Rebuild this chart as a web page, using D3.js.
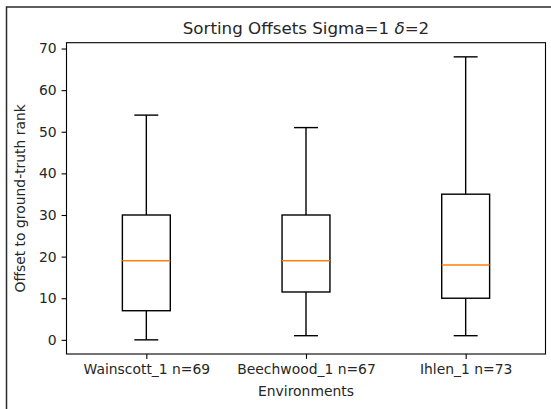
<!DOCTYPE html>
<html>
<head>
<meta charset="utf-8">
<script src="https://cdn.jsdelivr.net/npm/d3@7"></script>
<style>
  body { margin: 0; background: #fff; }
  text { font-family: "DejaVu Sans", sans-serif; fill: #262626; }
</style>
</head>
<body>
<div class="chart_box"></div>
<script>
// Box summaries
var environments = ["Wainscott_1 n=69", "Beechwood_1 n=67", "Ihlen_1 n=73"];
var whiskerLow = [0, 1, 1];
var quartile1 = [7, 11.5, 10];
var medians = [19, 19, 18];
var quartile3 = [30, 30, 35];
var whiskerHigh = [54, 51, 68];
var yTicks = [0, 10, 20, 30, 40, 50, 60, 70];

var svgWidth = 551;
var svgHeight = 409;
var margin = { top: 42.7, right: 5.5, bottom: 55, left: 66.5 };
var width = svgWidth - margin.left - margin.right;
var height = svgHeight - margin.top - margin.bottom;

var svg = d3
    .select(".chart_box")
    .append("svg")
    .attr("width", svgWidth)
    .attr("height", svgHeight);

// frame of the notebook cell around the figure
svg.append("path")
    .attr("d", "M6.5," + svgHeight + "V7H" + svgWidth)
    .attr("fill", "none")
    .attr("stroke", "#2a2a2a")
    .attr("stroke-width", 1.5);

var chart = svg.append("g")
    .attr("transform", "translate(" + margin.left + "," + margin.top + ")");

// matplotlib-style positions 1..3 with 0.5 padding
var xScale = d3.scaleLinear().domain([0.5, 3.5]).range([0, width]);
var yScale = d3.scaleLinear().domain([-3.4, 71.4]).range([height, 0]);

var data = environments.map(function (name, i) {
    return {
        name: name,
        pos: i + 1,
        lo: whiskerLow[i],
        q1: quartile1[i],
        med: medians[i],
        q3: quartile3[i],
        hi: whiskerHigh[i]
    };
});

var boxHalf = 0.15;
var capHalf = 0.075;

var boxes = chart.selectAll(".box")
    .data(data)
    .enter()
    .append("g")
    .attr("class", "box");

// whiskers
boxes.append("line")
    .attr("x1", function (d) { return xScale(d.pos); })
    .attr("x2", function (d) { return xScale(d.pos); })
    .attr("y1", function (d) { return yScale(d.lo); })
    .attr("y2", function (d) { return yScale(d.q1); })
    .attr("stroke", "#000").attr("stroke-width", 1.4);

boxes.append("line")
    .attr("x1", function (d) { return xScale(d.pos); })
    .attr("x2", function (d) { return xScale(d.pos); })
    .attr("y1", function (d) { return yScale(d.q3); })
    .attr("y2", function (d) { return yScale(d.hi); })
    .attr("stroke", "#000").attr("stroke-width", 1.4);

// caps
["lo", "hi"].forEach(function (key) {
    boxes.append("line")
        .attr("x1", function (d) { return xScale(d.pos - capHalf); })
        .attr("x2", function (d) { return xScale(d.pos + capHalf); })
        .attr("y1", function (d) { return yScale(d[key]); })
        .attr("y2", function (d) { return yScale(d[key]); })
        .attr("stroke", "#000").attr("stroke-width", 1.4);
});

// the box itself
boxes.append("rect")
    .attr("x", function (d) { return xScale(d.pos - boxHalf); })
    .attr("width", function (d) { return xScale(d.pos + boxHalf) - xScale(d.pos - boxHalf); })
    .attr("y", function (d) { return yScale(d.q3); })
    .attr("height", function (d) { return yScale(d.q1) - yScale(d.q3); })
    .attr("fill", "none")
    .attr("stroke", "#000").attr("stroke-width", 1.4);

// median
boxes.append("line")
    .attr("x1", function (d) { return xScale(d.pos - boxHalf); })
    .attr("x2", function (d) { return xScale(d.pos + boxHalf); })
    .attr("y1", function (d) { return yScale(d.med); })
    .attr("y2", function (d) { return yScale(d.med); })
    .attr("stroke", "#ff7f0e").attr("stroke-width", 1.4);

// axes
var bottomAxis = d3.axisBottom(xScale)
    .tickValues([1, 2, 3])
    .tickFormat(function (d) { return environments[d - 1]; })
    .tickSizeInner(4.9).tickSizeOuter(0).tickPadding(4.9);
var leftAxis = d3.axisLeft(yScale)
    .tickValues(yTicks)
    .tickSizeInner(4.9).tickSizeOuter(0).tickPadding(4.9);

chart.append("g")
    .attr("class", "x-axis")
    .attr("transform", "translate(0," + height + ")")
    .call(bottomAxis);

chart.append("g")
    .attr("class", "y-axis")
    .call(leftAxis);

chart.selectAll(".x-axis .domain, .y-axis .domain").remove();
chart.selectAll(".tick line").attr("stroke", "#000").attr("stroke-width", 1.1);
chart.selectAll(".tick text")
    .style("font-size", "13.9px")
    .style("fill", "#262626");

// spines
chart.append("rect")
    .attr("width", width)
    .attr("height", height)
    .attr("fill", "none")
    .attr("stroke", "#000")
    .attr("stroke-width", 1.1);

// title and axis labels (delta is math-italic like mathtext)
var title = chart.append("text")
    .attr("x", width / 2)
    .attr("y", -8.7)
    .attr("text-anchor", "middle")
    .style("font-size", "16.7px");
title.append("tspan").text("Sorting Offsets Sigma=1 ");
title.append("tspan").style("font-style", "italic").text("\u03B4");
title.append("tspan").text("=2");

chart.append("text")
    .attr("x", width / 2)
    .attr("y", height + 42)
    .attr("text-anchor", "middle")
    .style("font-size", "13.9px")
    .text("Environments");

chart.append("text")
    .attr("transform", "rotate(-90)")
    .attr("x", -height / 2)
    .attr("y", -41.5)
    .attr("text-anchor", "middle")
    .style("font-size", "13.9px")
    .text("Offset to ground-truth rank");
</script>
</body>
</html>
